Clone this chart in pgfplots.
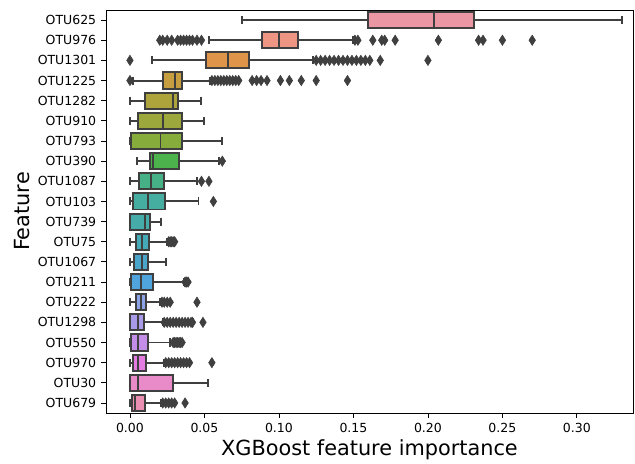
\documentclass[border=0pt]{standalone}
\usepackage{pgfplots}
\pgfplotsset{compat=1.18}
\usepgfplotslibrary{statistics}
\usepackage{fontspec}
\setmainfont{DejaVu Sans}
\definecolor{bgray}{HTML}{3F3F3F}
\definecolor{c0}{RGB}{234,150,163}
\definecolor{c1}{RGB}{238,149,131}
\definecolor{c2}{RGB}{222,149,74}
\definecolor{c3}{RGB}{198,158,64}
\definecolor{c4}{RGB}{174,164,60}
\definecolor{c5}{RGB}{157,168,60}
\definecolor{c6}{RGB}{134,172,60}
\definecolor{c7}{RGB}{75,178,76}
\definecolor{c8}{RGB}{70,176,134}
\definecolor{c9}{RGB}{69,174,160}
\definecolor{c10}{RGB}{70,172,170}
\definecolor{c11}{RGB}{68,170,184}
\definecolor{c12}{RGB}{74,167,203}
\definecolor{c13}{RGB}{80,164,222}
\definecolor{c14}{RGB}{140,163,232}
\definecolor{c15}{RGB}{170,155,232}
\definecolor{c16}{RGB}{196,141,232}
\definecolor{c17}{RGB}{228,123,224}
\definecolor{c18}{RGB}{232,139,200}
\definecolor{c19}{RGB}{235,143,178}
\begin{document}
\begin{tikzpicture}
\begin{axis}[
  at={(0,0)}, anchor=south west,
  scale only axis, width=379.4pt, height=290.2pt,
  xmin=-0.0161, xmax=0.3376, ymin=-0.5, ymax=19.5, y dir=reverse,
  xtick={0,0.05,...,0.30},
  xticklabel style={/pgf/number format/.cd, fixed, fixed zerofill, precision=2},
  /pgf/number format/assume math mode=true,
  ytick={0,...,19},
  yticklabels={OTU625,OTU976,OTU1301,OTU1225,OTU1282,OTU910,OTU793,OTU390,OTU1087,OTU103,OTU739,OTU75,OTU1067,OTU211,OTU222,OTU1298,OTU550,OTU970,OTU30,OTU679},
  tick label style={font=\fontsize{9}{11}\selectfont, text=black},
  xtick pos=bottom, ytick pos=left,
  tick align=outside, major tick length=3.5pt, tick style={black, line width=0.6pt},
  axis line style={black, line width=0.6pt},
  xlabel={XGBoost feature importance}, ylabel={Feature},
  every axis x label/.style={at={(axis description cs:0.5,-0.0917)}, anchor=center, font=\fontsize{15}{18}\selectfont},
  every axis y label/.style={at={(axis description cs:-0.1595,0.5)}, rotate=90, anchor=center, font=\fontsize{15}{18}\selectfont},
  boxplot/draw direction=x,
  boxplot/box extend=0.8,
  boxplot/whisker extend=0.4,
  boxplot/every box/.append style={draw=bgray, line width=1.4pt},
  boxplot/every whisker/.append style={draw=bgray, line width=1.4pt},
  boxplot/every median/.append style={draw=bgray, line width=1.4pt},
  every axis plot/.append style={draw=bgray, line width=1.4pt, mark=diamond*, mark size=3.7pt,
     mark options={fill=bgray, draw=bgray, line width=0.4pt, xscale=0.85}},
]
\addplot[fill=c0, boxplot prepared={draw position=0, lower whisker=0.075, lower quartile=0.160, median=0.204, upper quartile=0.231, upper whisker=0.330}] coordinates {};
\addplot[fill=c1, boxplot prepared={draw position=1, lower whisker=0.053, lower quartile=0.0887, median=0.100, upper quartile=0.113, upper whisker=0.150}]
 table[row sep=\\, y index=0] {v\\ 0.020\\ 0.022\\ 0.025\\ 0.028\\ 0.032\\ 0.034\\ 0.036\\ 0.038\\ 0.040\\ 0.042\\ 0.045\\ 0.048\\ 0.151\\ 0.153\\ 0.163\\ 0.169\\ 0.171\\ 0.178\\ 0.207\\ 0.234\\ 0.237\\ 0.250\\ 0.270\\};
\addplot[fill=c2, boxplot prepared={draw position=2, lower whisker=0.0145, lower quartile=0.051, median=0.066, upper quartile=0.080, upper whisker=0.123}]
 table[row sep=\\, y index=0] {v\\ 0.000\\ 0.125\\ 0.128\\ 0.131\\ 0.134\\ 0.137\\ 0.140\\ 0.143\\ 0.146\\ 0.149\\ 0.152\\ 0.155\\ 0.158\\ 0.161\\ 0.168\\ 0.200\\};
\addplot[fill=c3, boxplot prepared={draw position=3, lower whisker=0.002, lower quartile=0.022, median=0.030, upper quartile=0.035, upper whisker=0.054}]
 table[row sep=\\, y index=0] {v\\ 0.000\\ 0.055\\ 0.057\\ 0.059\\ 0.061\\ 0.063\\ 0.065\\ 0.067\\ 0.069\\ 0.071\\ 0.073\\ 0.082\\ 0.085\\ 0.088\\ 0.092\\ 0.101\\ 0.107\\ 0.115\\ 0.125\\ 0.146\\};
\addplot[fill=c4, boxplot prepared={draw position=4, lower whisker=0.0, lower quartile=0.010, median=0.029, upper quartile=0.032, upper whisker=0.048}] coordinates {};
\addplot[fill=c5, boxplot prepared={draw position=5, lower whisker=0.0, lower quartile=0.0055, median=0.022, upper quartile=0.035, upper whisker=0.050}] coordinates {};
\addplot[fill=c6, boxplot prepared={draw position=6, lower whisker=0.0, lower quartile=0.0007, median=0.0205, upper quartile=0.035, upper whisker=0.062}] coordinates {};
\addplot[fill=c7, boxplot prepared={draw position=7, lower whisker=0.005, lower quartile=0.0134, median=0.0156, upper quartile=0.033, upper whisker=0.060}]
 table[row sep=\\, y index=0] {v\\ 0.062\\};
\addplot[fill=c8, boxplot prepared={draw position=8, lower whisker=0.0, lower quartile=0.006, median=0.014, upper quartile=0.023, upper whisker=0.045}]
 table[row sep=\\, y index=0] {v\\ 0.048\\ 0.053\\};
\addplot[fill=c9, boxplot prepared={draw position=9, lower whisker=0.0, lower quartile=0.002, median=0.012, upper quartile=0.0235, upper whisker=0.046}]
 table[row sep=\\, y index=0] {v\\ 0.056\\};
\addplot[fill=c10, boxplot prepared={draw position=10, lower whisker=0.0, lower quartile=0.0, median=0.010, upper quartile=0.0135, upper whisker=0.021}] coordinates {};
\addplot[fill=c11, boxplot prepared={draw position=11, lower whisker=0.0, lower quartile=0.004, median=0.008, upper quartile=0.0128, upper whisker=0.025}]
 table[row sep=\\, y index=0] {v\\ 0.026\\ 0.027\\ 0.028\\ 0.029\\ 0.030\\};
\addplot[fill=c12, boxplot prepared={draw position=12, lower whisker=0.0, lower quartile=0.0027, median=0.008, upper quartile=0.012, upper whisker=0.024}] coordinates {};
\addplot[fill=c13, boxplot prepared={draw position=13, lower whisker=0.0, lower quartile=0.001, median=0.0074, upper quartile=0.0157, upper whisker=0.036}]
 table[row sep=\\, y index=0] {v\\ 0.037\\ 0.038\\ 0.039\\};
\addplot[fill=c14, boxplot prepared={draw position=14, lower whisker=0.0, lower quartile=0.004, median=0.0076, upper quartile=0.011, upper whisker=0.020}]
 table[row sep=\\, y index=0] {v\\ 0.0215\\ 0.023\\ 0.025\\ 0.027\\ 0.045\\};
\addplot[fill=c15, boxplot prepared={draw position=15, lower whisker=0.0, lower quartile=0.0, median=0.0056, upper quartile=0.0096, upper whisker=0.022}]
 table[row sep=\\, y index=0] {v\\ 0.023\\ 0.025\\ 0.027\\ 0.029\\ 0.031\\ 0.033\\ 0.035\\ 0.037\\ 0.039\\ 0.041\\ 0.042\\ 0.049\\};
\addplot[fill=c16, boxplot prepared={draw position=16, lower whisker=0.0, lower quartile=0.001, median=0.0056, upper quartile=0.012, upper whisker=0.027}]
 table[row sep=\\, y index=0] {v\\ 0.029\\ 0.030\\ 0.031\\ 0.032\\ 0.033\\ 0.034\\ 0.035\\};
\addplot[fill=c17, boxplot prepared={draw position=17, lower whisker=0.0, lower quartile=0.002, median=0.0056, upper quartile=0.011, upper whisker=0.023}]
 table[row sep=\\, y index=0] {v\\ 0.024\\ 0.026\\ 0.028\\ 0.030\\ 0.032\\ 0.034\\ 0.036\\ 0.038\\ 0.040\\ 0.055\\};
\addplot[fill=c18, boxplot prepared={draw position=18, lower whisker=0.0, lower quartile=0.0, median=0.0053, upper quartile=0.0287, upper whisker=0.0525}] coordinates {};
\addplot[fill=c19, boxplot prepared={draw position=19, lower whisker=0.0, lower quartile=0.0015, median=0.0035, upper quartile=0.010, upper whisker=0.021}]
 table[row sep=\\, y index=0] {v\\ 0.022\\ 0.024\\ 0.026\\ 0.028\\ 0.030\\ 0.037\\};
\end{axis}
\pgfresetboundingbox
\path[use as bounding box] (-76.3pt,-36pt) rectangle (380.9pt,297.4pt);
\end{tikzpicture}
\end{document}
